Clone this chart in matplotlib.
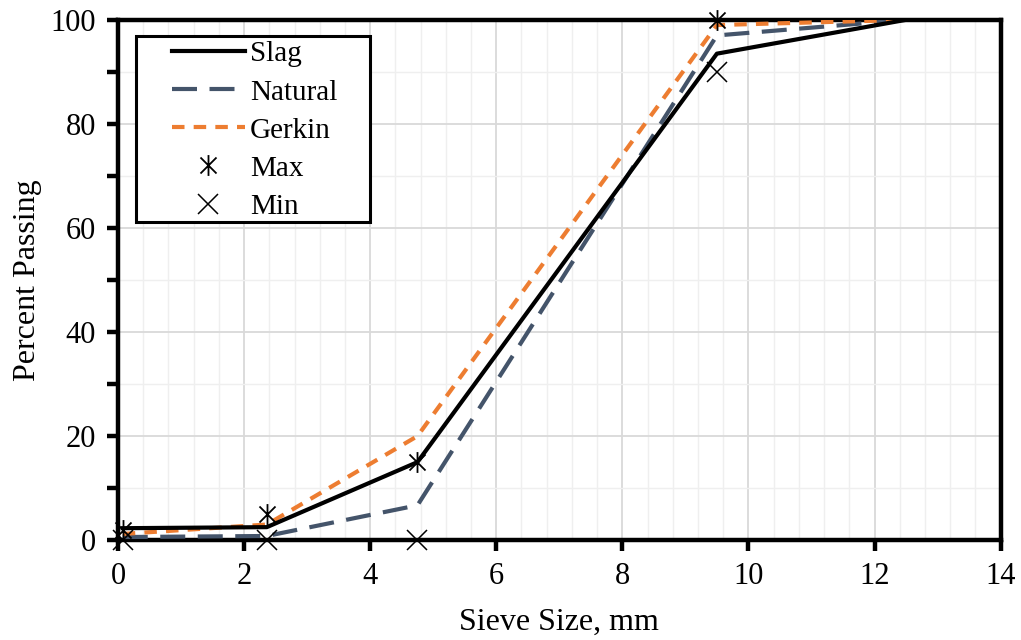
import matplotlib
matplotlib.use("Agg")
import matplotlib.pyplot as plt
from matplotlib.patches import Rectangle
from matplotlib.path import Path
from matplotlib.ticker import MultipleLocator

# sieve sizes (mm) and percent passing
sieve = [0.075, 2.36, 4.75, 9.5, 12.5]
slag = [2.3, 2.5, 15.0, 93.5, 100.0]
natural = [0.6, 0.8, 6.7, 97.0, 100.0]
gerkin = [1.2, 3.0, 20.0, 99.0, 100.0]

lim_sieve = [0.075, 2.36, 4.75, 9.5]
lim_max = [2.0, 5.0, 15.0, 100.0]
lim_min = [0.0, 0.0, 0.0, 90.0]

plt.rcParams['font.family'] = ['Liberation Serif', 'DejaVu Serif']

# Excel-style "X with a vertical bar" marker
star_x = Path([(-1, -1), (1, 1), (-1, 1), (1, -1), (0, -1.3), (0, 1.3)],
              [Path.MOVETO, Path.LINETO, Path.MOVETO, Path.LINETO, Path.MOVETO, Path.LINETO])

fig = plt.figure(figsize=(10.21, 6.4), dpi=100)
ax = fig.add_axes([0.1156, 0.156, 0.8644, 0.813])

ax.plot(sieve, slag, color='black', lw=3.0, label='Slag', zorder=4)
ax.plot(sieve, natural, color='#44546A', lw=3.0, dashes=(6, 3), label='Natural', zorder=3)
ax.plot(sieve, gerkin, color='#ED7D31', lw=3.0, dashes=(3, 2.2), label='Gerkin', zorder=3)
ax.plot(lim_sieve, lim_max, ls='none', marker=star_x, ms=15, mew=1.3,
        color='black', label='Max', zorder=5, clip_on=False)
ax.plot(lim_sieve, lim_min, ls='none', marker='x', ms=14, mew=1.1,
        color='black', label='Min', zorder=5, clip_on=False)

ax.set_xlim(0, 14)
ax.set_ylim(0, 100)
ax.xaxis.set_major_locator(MultipleLocator(2))
ax.xaxis.set_minor_locator(MultipleLocator(0.4))
ax.yaxis.set_major_locator(MultipleLocator(20))
ax.yaxis.set_minor_locator(MultipleLocator(10))

ax.grid(True, which='major', color='#d9d9d9', lw=1.3)
ax.grid(True, which='minor', color='#efefef', lw=1.0)
ax.set_axisbelow(True)

for s in ax.spines.values():
    s.set_linewidth(3.2)
    s.set_color('black')

ax.tick_params(axis='both', which='major', labelsize=22, width=3.2, length=8,
               direction='out', pad=8)
ax.tick_params(axis='x', which='minor', length=0)
ax.tick_params(axis='y', which='minor', width=3.2, length=8, direction='out')

ax.set_xlabel('Sieve Size, mm', fontsize=23, labelpad=12)
ax.set_ylabel('Percent Passing', fontsize=23, labelpad=6)

# legend without its own frame; box drawn separately (wider left margin like the original)
box = Rectangle((136 / 1021, 1 - 222 / 640), 234 / 1021, 186 / 640,
                transform=fig.transFigure, facecolor='white', edgecolor='black',
                lw=2.2, zorder=6, clip_on=False)
ax.add_patch(box)
leg = ax.legend(loc='upper left', bbox_to_anchor=(172 / 1021, 1 - 41 / 640),
                bbox_transform=fig.transFigure, fontsize=21,
                handlelength=2.5, handletextpad=0.17, labelspacing=0.4,
                borderpad=0, borderaxespad=0, frameon=False)
leg.set_zorder(7)

fig.savefig('out.png', dpi=100)
